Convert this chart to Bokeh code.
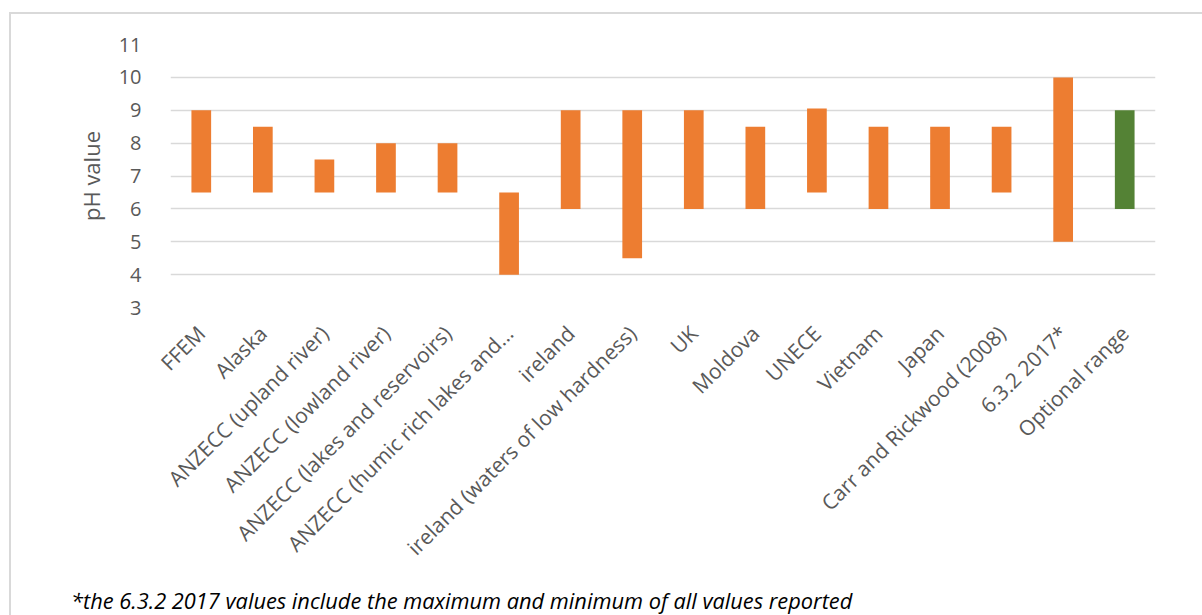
import math
from bokeh.plotting import figure
from bokeh.models import FactorRange, Div
from bokeh.layouts import column
from bokeh.embed import file_html
from bokeh.resources import INLINE

categories = ["FFEM", "Alaska", "ANZECC (upland river)", "ANZECC (lowland river)",
              "ANZECC (lakes and reservoirs)", "ANZECC (humic rich lakes and…",
              "ireland", "ireland (waters of low hardness)", "UK", "Moldova", "UNECE",
              "Vietnam", "Japan", "Carr and Rickwood (2008)", "6.3.2 2017*", "Optional range"]
ph_min = [6.5, 6.5, 6.5, 6.5, 6.5, 4.0, 6.0, 4.5, 6.0, 6.0, 6.5, 6.0, 6.0, 6.5, 5.0, 6.0]
ph_max = [9.0, 8.5, 7.5, 8.0, 8.0, 6.5, 9.0, 9.0, 9.0, 8.5, 9.05, 8.5, 8.5, 8.5, 10.0, 9.0]
y_ticks = [3, 4, 5, 6, 7, 8, 9, 10, 11]
footnote = "*the 6.3.2 2017 values include the maximum and minimum of all values reported"

W = 1190
p = figure(width=W, height=563, x_range=FactorRange(*categories, range_padding=0),
           y_range=(3, 11), output_backend="svg", toolbar_location=None,
           min_border_left=159, min_border_top=30, min_border_right=46, min_border_bottom=270)
p.outline_line_color = None

ref_cats = categories[:-1]
opt_cats = categories[-1:]
p.vbar(x=ref_cats, bottom=ph_min[:-1], top=ph_max[:-1], width=0.32,
       fill_color="#ED7D31", line_color=None)
p.vbar(x=opt_cats, bottom=ph_min[-1:], top=ph_max[-1:], width=0.32,
       fill_color="#548235", line_color=None)

p.xgrid.grid_line_color = None
p.ygrid.grid_line_color = "#d9d9d9"
p.ygrid.grid_line_width = 1.5
p.yaxis.ticker = y_ticks

for ax in (p.xaxis[0], p.yaxis[0]):
    ax.axis_line_color = None
    ax.major_tick_line_color = None
    ax.minor_tick_line_color = None
    ax.major_label_text_color = "#595959"
    ax.major_label_text_font = "Open Sans"
    ax.major_label_text_font_size = "20px"

p.xaxis.major_label_text_font_size = "21px"
p.yaxis.major_label_standoff = 23
p.yaxis.axis_label = "pH value"
p.yaxis.axis_label_text_font = "Open Sans"
p.yaxis.axis_label_text_font_size = "22px"
p.yaxis.axis_label_text_font_style = "normal"
p.yaxis.axis_label_text_color = "#595959"
p.yaxis.axis_label_standoff = 10

p.xaxis.major_label_orientation = math.pi / 4
p.xaxis.major_label_standoff = 16

foot = Div(text=footnote, width=W, height=37,
           styles={"font-family": "'Open Sans'", "font-style": "italic",
                   "font-size": "21.8px", "color": "#000000", "white-space": "nowrap",
                   "padding-left": "55px", "padding-top": "4px", "line-height": "normal",
                   "box-sizing": "border-box"})

layout = column(p, foot, spacing=0)
layout.margin = (12, 0, 0, 9)
layout.styles = {"border-top": "2px solid #d9d9d9", "border-left": "2px solid #d9d9d9"}

open("out.html", "w").write(file_html(layout, INLINE))
